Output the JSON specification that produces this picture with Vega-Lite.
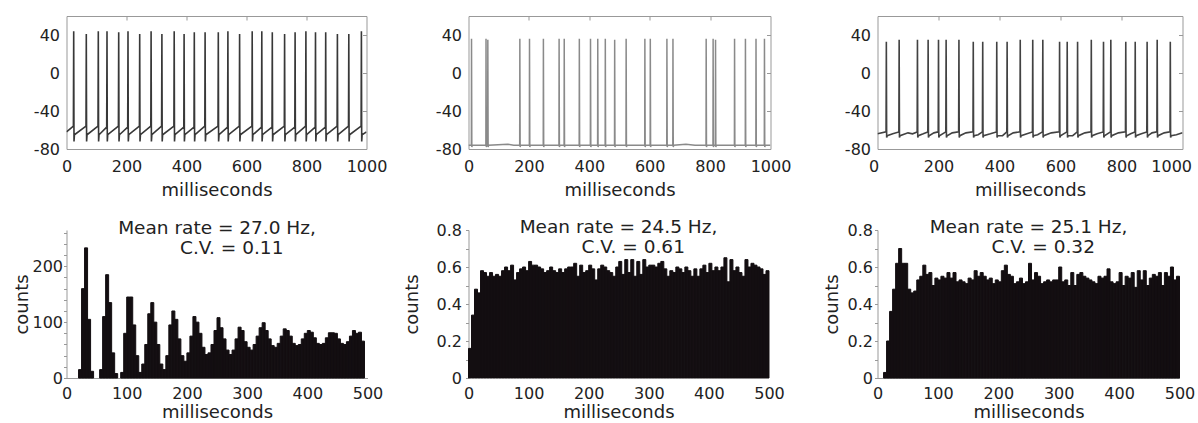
{
  "$schema": "https://vega.github.io/schema/vega-lite/v6.json",
  "padding": {"left": 13.5, "top": 15, "right": 2, "bottom": 2},
  "background": "white",
  "config": {
    "font": "DejaVu Sans",
    "axis": {"labelFont": "DejaVu Sans", "labelFontSize": 16, "labelColor": "#222", "titleFont": "DejaVu Sans", "titleFontSize": 18, "titleFontWeight": "normal", "titleColor": "#222", "grid": false, "labelFlush": false, "labelOverlap": false, "domainColor": "#999", "tickColor": "#999"},
    "view": {"stroke": null},
    "title": {"font": "DejaVu Sans", "fontSize": 18.5, "fontWeight": "normal", "color": "#222"}
  },
  "datasets": {
    "tr1": [
      {"t": 0, "v": -62},
      {"t": 23, "v": -56}, {"t": 24, "v": 44}, {"t": 25, "v": -72}, {"t": 26.5, "v": -65},
      {"t": 65, "v": -56}, {"t": 66, "v": 41}, {"t": 67, "v": -72}, {"t": 68.5, "v": -65},
      {"t": 105, "v": -56}, {"t": 106, "v": 44}, {"t": 107, "v": -72}, {"t": 108.5, "v": -65},
      {"t": 134, "v": -57}, {"t": 135, "v": 44}, {"t": 136, "v": -72}, {"t": 137.5, "v": -65},
      {"t": 173, "v": -56}, {"t": 174, "v": 43}, {"t": 175, "v": -72}, {"t": 176.5, "v": -65},
      {"t": 204, "v": -57}, {"t": 205, "v": 44}, {"t": 206, "v": -72}, {"t": 207.5, "v": -65},
      {"t": 243, "v": -56}, {"t": 244, "v": 41}, {"t": 245, "v": -72}, {"t": 246.5, "v": -65},
      {"t": 281, "v": -56}, {"t": 282, "v": 44}, {"t": 283, "v": -72}, {"t": 284.5, "v": -65},
      {"t": 317, "v": -56}, {"t": 318, "v": 41}, {"t": 319, "v": -72}, {"t": 320.5, "v": -65},
      {"t": 358, "v": -56}, {"t": 359, "v": 44}, {"t": 360, "v": -72}, {"t": 361.5, "v": -65},
      {"t": 391, "v": -57}, {"t": 392, "v": 41}, {"t": 393, "v": -72}, {"t": 394.5, "v": -65},
      {"t": 425, "v": -57}, {"t": 426, "v": 43}, {"t": 427, "v": -72}, {"t": 428.5, "v": -65},
      {"t": 461, "v": -56}, {"t": 462, "v": 43}, {"t": 463, "v": -72}, {"t": 464.5, "v": -65},
      {"t": 505, "v": -56}, {"t": 506, "v": 43}, {"t": 507, "v": -72}, {"t": 508.5, "v": -65},
      {"t": 537, "v": -57}, {"t": 538, "v": 44}, {"t": 539, "v": -72}, {"t": 540.5, "v": -65},
      {"t": 576, "v": -56}, {"t": 577, "v": 41}, {"t": 578, "v": -72}, {"t": 579.5, "v": -65},
      {"t": 618, "v": -56}, {"t": 619, "v": 44}, {"t": 620, "v": -72}, {"t": 621.5, "v": -65},
      {"t": 650, "v": -57}, {"t": 651, "v": 44}, {"t": 652, "v": -72}, {"t": 653.5, "v": -65},
      {"t": 685, "v": -57}, {"t": 686, "v": 43}, {"t": 687, "v": -72}, {"t": 688.5, "v": -65},
      {"t": 726, "v": -56}, {"t": 727, "v": 41}, {"t": 728, "v": -72}, {"t": 729.5, "v": -65},
      {"t": 761, "v": -57}, {"t": 762, "v": 43}, {"t": 763, "v": -72}, {"t": 764.5, "v": -65},
      {"t": 797, "v": -56}, {"t": 798, "v": 44}, {"t": 799, "v": -72}, {"t": 800.5, "v": -65},
      {"t": 829, "v": -57}, {"t": 830, "v": 43}, {"t": 831, "v": -72}, {"t": 832.5, "v": -65},
      {"t": 863, "v": -57}, {"t": 864, "v": 43}, {"t": 865, "v": -72}, {"t": 866.5, "v": -65},
      {"t": 902, "v": -56}, {"t": 903, "v": 41}, {"t": 904, "v": -72}, {"t": 905.5, "v": -65},
      {"t": 940, "v": -56}, {"t": 941, "v": 41}, {"t": 942, "v": -72}, {"t": 943.5, "v": -65},
      {"t": 982, "v": -56}, {"t": 983, "v": 44}, {"t": 984, "v": -72}, {"t": 985.5, "v": -65},
      {"t": 1000, "v": -62}
    ],
    "tr2": [
      {"t": 0, "v": -76},
      {"t": 9.5, "v": -76}, {"t": 10, "v": 36}, {"t": 11, "v": -78}, {"t": 12.5, "v": -76},
      {"t": 57.5, "v": -76}, {"t": 58, "v": 36}, {"t": 59, "v": -78}, {"t": 60.5, "v": -76},
      {"t": 63.5, "v": -76}, {"t": 64, "v": 35}, {"t": 65, "v": -78}, {"t": 66.5, "v": -76},
      {"t": 130, "v": -75}, {"t": 150, "v": -76},
      {"t": 169.5, "v": -76}, {"t": 170, "v": 36}, {"t": 171, "v": -78}, {"t": 172.5, "v": -76},
      {"t": 201.5, "v": -76}, {"t": 202, "v": 36}, {"t": 203, "v": -78}, {"t": 204.5, "v": -76},
      {"t": 247.5, "v": -76}, {"t": 248, "v": 36}, {"t": 249, "v": -78}, {"t": 250.5, "v": -76},
      {"t": 299.5, "v": -76}, {"t": 300, "v": 36}, {"t": 301, "v": -78}, {"t": 302.5, "v": -76},
      {"t": 316.5, "v": -76}, {"t": 317, "v": 36}, {"t": 318, "v": -78}, {"t": 319.5, "v": -76},
      {"t": 366.5, "v": -76}, {"t": 367, "v": 36}, {"t": 368, "v": -78}, {"t": 369.5, "v": -76},
      {"t": 403.5, "v": -76}, {"t": 404, "v": 36}, {"t": 405, "v": -78}, {"t": 406.5, "v": -76},
      {"t": 427.5, "v": -76}, {"t": 428, "v": 36}, {"t": 429, "v": -78}, {"t": 430.5, "v": -76},
      {"t": 452.5, "v": -76}, {"t": 453, "v": 36}, {"t": 454, "v": -78}, {"t": 455.5, "v": -76},
      {"t": 483.5, "v": -76}, {"t": 484, "v": 35}, {"t": 485, "v": -78}, {"t": 486.5, "v": -76},
      {"t": 521.5, "v": -76}, {"t": 522, "v": 36}, {"t": 523, "v": -78}, {"t": 524.5, "v": -76},
      {"t": 583.5, "v": -76}, {"t": 584, "v": 36}, {"t": 585, "v": -78}, {"t": 586.5, "v": -76},
      {"t": 601.5, "v": -76}, {"t": 602, "v": 36}, {"t": 603, "v": -78}, {"t": 604.5, "v": -76},
      {"t": 656.5, "v": -76}, {"t": 657, "v": 36}, {"t": 658, "v": -78}, {"t": 659.5, "v": -76},
      {"t": 676.5, "v": -76}, {"t": 677, "v": 36}, {"t": 678, "v": -78}, {"t": 679.5, "v": -76},
      {"t": 720, "v": -75}, {"t": 750, "v": -76},
      {"t": 786.5, "v": -76}, {"t": 787, "v": 36}, {"t": 788, "v": -78}, {"t": 789.5, "v": -76},
      {"t": 809.5, "v": -76}, {"t": 810, "v": 36}, {"t": 811, "v": -78}, {"t": 812.5, "v": -76},
      {"t": 817.5, "v": -76}, {"t": 818, "v": 35}, {"t": 819, "v": -78}, {"t": 820.5, "v": -76},
      {"t": 880.5, "v": -76}, {"t": 881, "v": 36}, {"t": 882, "v": -78}, {"t": 883.5, "v": -76},
      {"t": 916.5, "v": -76}, {"t": 917, "v": 36}, {"t": 918, "v": -78}, {"t": 919.5, "v": -76},
      {"t": 951.5, "v": -76}, {"t": 952, "v": 36}, {"t": 953, "v": -78}, {"t": 954.5, "v": -76},
      {"t": 979.5, "v": -76}, {"t": 980, "v": 36}, {"t": 981, "v": -78}, {"t": 982.5, "v": -76},
      {"t": 1000, "v": -76}
    ],
    "tr3": [
      {"t": 0, "v": -64},
      {"t": 28, "v": -62}, {"t": 29, "v": 33}, {"t": 30, "v": -68}, {"t": 32, "v": -66},
      {"t": 50, "v": -64},
      {"t": 70, "v": -62}, {"t": 71, "v": 35}, {"t": 72, "v": -68}, {"t": 74, "v": -66},
      {"t": 100, "v": -63}, {"t": 115, "v": -64},
      {"t": 130, "v": -62}, {"t": 131, "v": 35}, {"t": 132, "v": -68}, {"t": 134, "v": -66},
      {"t": 150, "v": -64},
      {"t": 165, "v": -62}, {"t": 166, "v": 35}, {"t": 167, "v": -68}, {"t": 169, "v": -66},
      {"t": 185, "v": -63},
      {"t": 199, "v": -62}, {"t": 200, "v": 35}, {"t": 201, "v": -68}, {"t": 203, "v": -66},
      {"t": 224, "v": -62}, {"t": 225, "v": 35}, {"t": 226, "v": -68}, {"t": 228, "v": -66},
      {"t": 245, "v": -63},
      {"t": 266, "v": -62}, {"t": 267, "v": 35}, {"t": 268, "v": -68}, {"t": 270, "v": -66},
      {"t": 290, "v": -63},
      {"t": 313, "v": -62}, {"t": 314, "v": 33}, {"t": 315, "v": -68}, {"t": 317, "v": -66},
      {"t": 330, "v": -65},
      {"t": 344, "v": -62}, {"t": 345, "v": 33}, {"t": 346, "v": -68}, {"t": 348, "v": -66},
      {"t": 370, "v": -64},
      {"t": 390, "v": -62}, {"t": 391, "v": 33}, {"t": 392, "v": -68}, {"t": 394, "v": -66},
      {"t": 410, "v": -66},
      {"t": 424, "v": -62}, {"t": 425, "v": 33}, {"t": 426, "v": -68}, {"t": 428, "v": -66},
      {"t": 445, "v": -63},
      {"t": 467, "v": -62}, {"t": 468, "v": 35}, {"t": 469, "v": -68}, {"t": 471, "v": -66},
      {"t": 490, "v": -64},
      {"t": 508, "v": -62}, {"t": 509, "v": 35}, {"t": 510, "v": -68}, {"t": 512, "v": -66},
      {"t": 525, "v": -65},
      {"t": 541, "v": -62}, {"t": 542, "v": 35}, {"t": 543, "v": -68}, {"t": 545, "v": -66},
      {"t": 570, "v": -63},
      {"t": 596, "v": -62}, {"t": 597, "v": 33}, {"t": 598, "v": -68}, {"t": 600, "v": -66},
      {"t": 621, "v": -62}, {"t": 622, "v": 33}, {"t": 623, "v": -68}, {"t": 625, "v": -66},
      {"t": 640, "v": -66},
      {"t": 655, "v": -62}, {"t": 656, "v": 33}, {"t": 657, "v": -68}, {"t": 659, "v": -66},
      {"t": 680, "v": -63},
      {"t": 700, "v": -62}, {"t": 701, "v": 35}, {"t": 702, "v": -68}, {"t": 704, "v": -66},
      {"t": 720, "v": -64},
      {"t": 740, "v": -62}, {"t": 741, "v": 33}, {"t": 742, "v": -68}, {"t": 744, "v": -66},
      {"t": 764, "v": -62}, {"t": 765, "v": 35}, {"t": 766, "v": -68}, {"t": 768, "v": -66},
      {"t": 790, "v": -63},
      {"t": 813, "v": -62}, {"t": 814, "v": 33}, {"t": 815, "v": -68}, {"t": 817, "v": -66},
      {"t": 830, "v": -64},
      {"t": 844, "v": -62}, {"t": 845, "v": 33}, {"t": 846, "v": -68}, {"t": 848, "v": -66},
      {"t": 865, "v": -64},
      {"t": 883, "v": -62}, {"t": 884, "v": 33}, {"t": 885, "v": -68}, {"t": 887, "v": -66},
      {"t": 900, "v": -63},
      {"t": 916, "v": -62}, {"t": 917, "v": 35}, {"t": 918, "v": -68}, {"t": 920, "v": -66},
      {"t": 940, "v": -63},
      {"t": 959, "v": -62}, {"t": 960, "v": 33}, {"t": 961, "v": -68}, {"t": 963, "v": -66},
      {"t": 980, "v": -65},
      {"t": 1000, "v": -63}
    ],
    "h1": [
      {"a": 20, "b": 25, "c": 15}, {"a": 25, "b": 30, "c": 160}, {"a": 30, "b": 35, "c": 233}, {"a": 35, "b": 40, "c": 105}, {"a": 40, "b": 45, "c": 12},
      {"a": 55, "b": 60, "c": 15}, {"a": 60, "b": 65, "c": 110}, {"a": 65, "b": 70, "c": 185}, {"a": 70, "b": 75, "c": 135}, {"a": 75, "b": 80, "c": 45}, {"a": 80, "b": 85, "c": 8},
      {"a": 90, "b": 95, "c": 10}, {"a": 95, "b": 100, "c": 80}, {"a": 100, "b": 105, "c": 145}, {"a": 105, "b": 110, "c": 145}, {"a": 110, "b": 115, "c": 95}, {"a": 115, "b": 120, "c": 40}, {"a": 120, "b": 125, "c": 10},
      {"a": 125, "b": 130, "c": 25}, {"a": 130, "b": 135, "c": 60}, {"a": 135, "b": 140, "c": 115}, {"a": 140, "b": 145, "c": 135}, {"a": 145, "b": 150, "c": 100}, {"a": 150, "b": 155, "c": 60}, {"a": 155, "b": 160, "c": 25},
      {"a": 160, "b": 165, "c": 15}, {"a": 165, "b": 170, "c": 40}, {"a": 170, "b": 175, "c": 95}, {"a": 175, "b": 180, "c": 120}, {"a": 180, "b": 185, "c": 105}, {"a": 185, "b": 190, "c": 70}, {"a": 190, "b": 195, "c": 40}, {"a": 195, "b": 200, "c": 30},
      {"a": 200, "b": 205, "c": 45}, {"a": 205, "b": 210, "c": 75}, {"a": 210, "b": 215, "c": 110}, {"a": 215, "b": 220, "c": 100}, {"a": 220, "b": 225, "c": 80}, {"a": 225, "b": 230, "c": 55}, {"a": 230, "b": 235, "c": 42},
      {"a": 235, "b": 240, "c": 45}, {"a": 240, "b": 245, "c": 60}, {"a": 245, "b": 250, "c": 85}, {"a": 250, "b": 255, "c": 108}, {"a": 255, "b": 260, "c": 90}, {"a": 260, "b": 265, "c": 70}, {"a": 265, "b": 270, "c": 50}, {"a": 270, "b": 275, "c": 42},
      {"a": 275, "b": 280, "c": 50}, {"a": 280, "b": 285, "c": 70}, {"a": 285, "b": 290, "c": 91}, {"a": 290, "b": 295, "c": 85}, {"a": 295, "b": 300, "c": 65}, {"a": 300, "b": 305, "c": 55}, {"a": 305, "b": 310, "c": 50},
      {"a": 310, "b": 315, "c": 60}, {"a": 315, "b": 320, "c": 75}, {"a": 320, "b": 325, "c": 90}, {"a": 325, "b": 330, "c": 99}, {"a": 330, "b": 335, "c": 85}, {"a": 335, "b": 340, "c": 70}, {"a": 340, "b": 345, "c": 58}, {"a": 345, "b": 350, "c": 55},
      {"a": 350, "b": 355, "c": 62}, {"a": 355, "b": 360, "c": 75}, {"a": 360, "b": 365, "c": 88}, {"a": 365, "b": 370, "c": 85}, {"a": 370, "b": 375, "c": 75}, {"a": 375, "b": 380, "c": 62}, {"a": 380, "b": 385, "c": 58},
      {"a": 385, "b": 390, "c": 60}, {"a": 390, "b": 395, "c": 70}, {"a": 395, "b": 400, "c": 80}, {"a": 400, "b": 405, "c": 85}, {"a": 405, "b": 410, "c": 82}, {"a": 410, "b": 415, "c": 72}, {"a": 415, "b": 420, "c": 62}, {"a": 420, "b": 425, "c": 60},
      {"a": 425, "b": 430, "c": 62}, {"a": 430, "b": 435, "c": 72}, {"a": 435, "b": 440, "c": 81}, {"a": 440, "b": 445, "c": 81}, {"a": 445, "b": 450, "c": 80}, {"a": 450, "b": 455, "c": 70}, {"a": 455, "b": 460, "c": 62}, {"a": 460, "b": 465, "c": 60},
      {"a": 465, "b": 470, "c": 65}, {"a": 470, "b": 475, "c": 75}, {"a": 475, "b": 480, "c": 85}, {"a": 480, "b": 485, "c": 80}, {"a": 485, "b": 490, "c": 82}, {"a": 490, "b": 495, "c": 66}
    ],
    "h2": [
      {"a": 0, "b": 5, "c": 0.16}, {"a": 5, "b": 10, "c": 0.34}, {"a": 10, "b": 15, "c": 0.48}, {"a": 15, "b": 20, "c": 0.46}, {"a": 20, "b": 25, "c": 0.58},
      {"a": 25, "b": 30, "c": 0.57}, {"a": 30, "b": 35, "c": 0.55}, {"a": 35, "b": 40, "c": 0.57}, {"a": 40, "b": 45, "c": 0.55}, {"a": 45, "b": 50, "c": 0.56},
      {"a": 50, "b": 55, "c": 0.55}, {"a": 55, "b": 60, "c": 0.58}, {"a": 60, "b": 65, "c": 0.6}, {"a": 65, "b": 70, "c": 0.58}, {"a": 70, "b": 75, "c": 0.61},
      {"a": 75, "b": 80, "c": 0.53}, {"a": 80, "b": 85, "c": 0.57}, {"a": 85, "b": 90, "c": 0.59}, {"a": 90, "b": 95, "c": 0.6}, {"a": 95, "b": 100, "c": 0.58},
      {"a": 100, "b": 105, "c": 0.63}, {"a": 105, "b": 110, "c": 0.61}, {"a": 110, "b": 115, "c": 0.61}, {"a": 115, "b": 120, "c": 0.6}, {"a": 120, "b": 125, "c": 0.59},
      {"a": 125, "b": 130, "c": 0.57}, {"a": 130, "b": 135, "c": 0.58}, {"a": 135, "b": 140, "c": 0.6}, {"a": 140, "b": 145, "c": 0.58}, {"a": 145, "b": 150, "c": 0.57},
      {"a": 150, "b": 155, "c": 0.59}, {"a": 155, "b": 160, "c": 0.57}, {"a": 160, "b": 165, "c": 0.59}, {"a": 165, "b": 170, "c": 0.6}, {"a": 170, "b": 175, "c": 0.6},
      {"a": 175, "b": 180, "c": 0.62}, {"a": 180, "b": 185, "c": 0.55}, {"a": 185, "b": 190, "c": 0.61}, {"a": 190, "b": 195, "c": 0.57}, {"a": 195, "b": 200, "c": 0.58},
      {"a": 200, "b": 205, "c": 0.61}, {"a": 205, "b": 210, "c": 0.59}, {"a": 210, "b": 215, "c": 0.53}, {"a": 215, "b": 220, "c": 0.59}, {"a": 220, "b": 225, "c": 0.61},
      {"a": 225, "b": 230, "c": 0.6}, {"a": 230, "b": 235, "c": 0.58}, {"a": 235, "b": 240, "c": 0.57}, {"a": 240, "b": 245, "c": 0.55}, {"a": 245, "b": 250, "c": 0.6},
      {"a": 250, "b": 255, "c": 0.63}, {"a": 255, "b": 260, "c": 0.56}, {"a": 260, "b": 265, "c": 0.64}, {"a": 265, "b": 270, "c": 0.57}, {"a": 270, "b": 275, "c": 0.64},
      {"a": 275, "b": 280, "c": 0.55}, {"a": 280, "b": 285, "c": 0.63}, {"a": 285, "b": 290, "c": 0.56}, {"a": 290, "b": 295, "c": 0.64}, {"a": 295, "b": 300, "c": 0.6},
      {"a": 300, "b": 305, "c": 0.61}, {"a": 305, "b": 310, "c": 0.61}, {"a": 310, "b": 315, "c": 0.6}, {"a": 315, "b": 320, "c": 0.62}, {"a": 320, "b": 325, "c": 0.63},
      {"a": 325, "b": 330, "c": 0.59}, {"a": 330, "b": 335, "c": 0.55}, {"a": 335, "b": 340, "c": 0.58}, {"a": 340, "b": 345, "c": 0.57}, {"a": 345, "b": 350, "c": 0.6},
      {"a": 350, "b": 355, "c": 0.59}, {"a": 355, "b": 360, "c": 0.57}, {"a": 360, "b": 365, "c": 0.6}, {"a": 365, "b": 370, "c": 0.58}, {"a": 370, "b": 375, "c": 0.55},
      {"a": 375, "b": 380, "c": 0.59}, {"a": 380, "b": 385, "c": 0.55}, {"a": 385, "b": 390, "c": 0.59}, {"a": 390, "b": 395, "c": 0.61}, {"a": 395, "b": 400, "c": 0.57},
      {"a": 400, "b": 405, "c": 0.62}, {"a": 405, "b": 410, "c": 0.58}, {"a": 410, "b": 415, "c": 0.6}, {"a": 415, "b": 420, "c": 0.58}, {"a": 420, "b": 425, "c": 0.6},
      {"a": 425, "b": 430, "c": 0.65}, {"a": 430, "b": 435, "c": 0.52}, {"a": 435, "b": 440, "c": 0.64}, {"a": 440, "b": 445, "c": 0.58}, {"a": 445, "b": 450, "c": 0.6},
      {"a": 450, "b": 455, "c": 0.57}, {"a": 455, "b": 460, "c": 0.55}, {"a": 460, "b": 465, "c": 0.64}, {"a": 465, "b": 470, "c": 0.6}, {"a": 470, "b": 475, "c": 0.62},
      {"a": 475, "b": 480, "c": 0.61}, {"a": 480, "b": 485, "c": 0.6}, {"a": 485, "b": 490, "c": 0.59}, {"a": 490, "b": 495, "c": 0.56}, {"a": 495, "b": 500, "c": 0.58}
    ],
    "h3": [
      {"a": 10, "b": 15, "c": 0.03}, {"a": 15, "b": 20, "c": 0.2}, {"a": 20, "b": 25, "c": 0.36}, {"a": 25, "b": 30, "c": 0.48}, {"a": 30, "b": 35, "c": 0.62},
      {"a": 35, "b": 40, "c": 0.7}, {"a": 40, "b": 45, "c": 0.62}, {"a": 45, "b": 50, "c": 0.62}, {"a": 50, "b": 55, "c": 0.48}, {"a": 55, "b": 60, "c": 0.46},
      {"a": 60, "b": 65, "c": 0.47}, {"a": 65, "b": 70, "c": 0.53}, {"a": 70, "b": 75, "c": 0.55}, {"a": 75, "b": 80, "c": 0.61}, {"a": 80, "b": 85, "c": 0.56},
      {"a": 85, "b": 90, "c": 0.57}, {"a": 90, "b": 95, "c": 0.5}, {"a": 95, "b": 100, "c": 0.54}, {"a": 100, "b": 105, "c": 0.53}, {"a": 105, "b": 110, "c": 0.55},
      {"a": 110, "b": 115, "c": 0.54}, {"a": 115, "b": 120, "c": 0.57}, {"a": 120, "b": 125, "c": 0.54}, {"a": 125, "b": 130, "c": 0.57}, {"a": 130, "b": 135, "c": 0.52},
      {"a": 135, "b": 140, "c": 0.53}, {"a": 140, "b": 145, "c": 0.52}, {"a": 145, "b": 150, "c": 0.51}, {"a": 150, "b": 155, "c": 0.54}, {"a": 155, "b": 160, "c": 0.53},
      {"a": 160, "b": 165, "c": 0.58}, {"a": 165, "b": 170, "c": 0.55}, {"a": 170, "b": 175, "c": 0.57}, {"a": 175, "b": 180, "c": 0.55}, {"a": 180, "b": 185, "c": 0.53},
      {"a": 185, "b": 190, "c": 0.54}, {"a": 190, "b": 195, "c": 0.51}, {"a": 195, "b": 200, "c": 0.53}, {"a": 200, "b": 205, "c": 0.52}, {"a": 205, "b": 210, "c": 0.58},
      {"a": 210, "b": 215, "c": 0.61}, {"a": 215, "b": 220, "c": 0.56}, {"a": 220, "b": 225, "c": 0.55}, {"a": 225, "b": 230, "c": 0.51}, {"a": 230, "b": 235, "c": 0.52},
      {"a": 235, "b": 240, "c": 0.54}, {"a": 240, "b": 245, "c": 0.51}, {"a": 245, "b": 250, "c": 0.52}, {"a": 250, "b": 255, "c": 0.62}, {"a": 255, "b": 260, "c": 0.53},
      {"a": 260, "b": 265, "c": 0.57}, {"a": 265, "b": 270, "c": 0.55}, {"a": 270, "b": 275, "c": 0.51}, {"a": 275, "b": 280, "c": 0.52}, {"a": 280, "b": 285, "c": 0.53},
      {"a": 285, "b": 290, "c": 0.52}, {"a": 290, "b": 295, "c": 0.53}, {"a": 295, "b": 300, "c": 0.53}, {"a": 300, "b": 305, "c": 0.6}, {"a": 305, "b": 310, "c": 0.52},
      {"a": 310, "b": 315, "c": 0.53}, {"a": 315, "b": 320, "c": 0.5}, {"a": 320, "b": 325, "c": 0.57}, {"a": 325, "b": 330, "c": 0.5}, {"a": 330, "b": 335, "c": 0.56},
      {"a": 335, "b": 340, "c": 0.57}, {"a": 340, "b": 345, "c": 0.55}, {"a": 345, "b": 350, "c": 0.54}, {"a": 350, "b": 355, "c": 0.53}, {"a": 355, "b": 360, "c": 0.52},
      {"a": 360, "b": 365, "c": 0.51}, {"a": 365, "b": 370, "c": 0.55}, {"a": 370, "b": 375, "c": 0.54}, {"a": 375, "b": 380, "c": 0.55}, {"a": 380, "b": 385, "c": 0.59},
      {"a": 385, "b": 390, "c": 0.52}, {"a": 390, "b": 395, "c": 0.51}, {"a": 395, "b": 400, "c": 0.52}, {"a": 400, "b": 405, "c": 0.57}, {"a": 405, "b": 410, "c": 0.5},
      {"a": 410, "b": 415, "c": 0.55}, {"a": 415, "b": 420, "c": 0.54}, {"a": 420, "b": 425, "c": 0.57}, {"a": 425, "b": 430, "c": 0.49}, {"a": 430, "b": 435, "c": 0.58},
      {"a": 435, "b": 440, "c": 0.53}, {"a": 440, "b": 445, "c": 0.58}, {"a": 445, "b": 450, "c": 0.5}, {"a": 450, "b": 455, "c": 0.54}, {"a": 455, "b": 460, "c": 0.56},
      {"a": 460, "b": 465, "c": 0.55}, {"a": 465, "b": 470, "c": 0.57}, {"a": 470, "b": 475, "c": 0.5}, {"a": 475, "b": 480, "c": 0.57}, {"a": 480, "b": 485, "c": 0.55},
      {"a": 485, "b": 490, "c": 0.6}, {"a": 490, "b": 495, "c": 0.53}, {"a": 495, "b": 500, "c": 0.55}
    ]
  },
  "bounds": "flush",
  "align": "none",
  "columns": 3,
  "spacing": {"row": 81, "column": 101},
  "concat": [
    {
      "width": 300, "height": 133,
      "view": {"stroke": "#999"},
      "data": {"name": "tr1"},
      "layer": [
        {"mark": {"type": "line", "color": "#383838", "strokeWidth": 1.6, "clip": true},
         "encoding": {
           "x": {"field": "t", "type": "quantitative", "scale": {"domain": [0, 1000], "nice": false}, "axis": {"values": [0, 200, 400, 600, 800, 1000], "format": "d", "ticks": false, "domain": false, "labelPadding": 9, "title": "milliseconds", "titlePadding": 7}},
           "y": {"field": "v", "type": "quantitative", "scale": {"domain": [-80, 60], "nice": false}, "axis": {"values": [-80, -40, 0, 40], "ticks": false, "domain": false, "labelPadding": 7, "title": null, "labelExpr": "datum.value < 0 ? '-' + abs(datum.value) : '' + datum.value"}}
         }},
        {"mark": {"type": "line", "opacity": 0},
         "encoding": {
           "x": {"field": "t", "type": "quantitative", "axis": {"orient": "top", "values": [200, 400, 600, 800], "labels": false, "domain": false, "tickSize": -4, "title": null}},
           "y": {"field": "v", "type": "quantitative", "axis": {"orient": "right", "values": [-40, 0, 40], "labels": false, "domain": false, "tickSize": -4, "title": null}}
         }}
      ],
      "resolve": {"axis": {"x": "independent", "y": "independent"}}
    },
    {
      "width": 302, "height": 133,
      "view": {"stroke": "#999"},
      "data": {"name": "tr2"},
      "layer": [
        {"mark": {"type": "line", "color": "#8a8a8a", "strokeWidth": 1.5, "clip": true},
         "encoding": {
           "x": {"field": "t", "type": "quantitative", "scale": {"domain": [0, 1000], "nice": false}, "axis": {"values": [0, 200, 400, 600, 800, 1000], "format": "d", "ticks": false, "domain": false, "labelPadding": 9, "title": "milliseconds", "titlePadding": 7}},
           "y": {"field": "v", "type": "quantitative", "scale": {"domain": [-80, 60], "nice": false}, "axis": {"values": [-80, -40, 0, 40], "ticks": false, "domain": false, "labelPadding": 7, "title": null, "labelExpr": "datum.value < 0 ? '-' + abs(datum.value) : '' + datum.value"}}
         }},
        {"mark": {"type": "line", "opacity": 0},
         "encoding": {
           "x": {"field": "t", "type": "quantitative", "axis": {"orient": "top", "values": [200, 400, 600, 800], "labels": false, "domain": false, "tickSize": -4, "title": null}},
           "y": {"field": "v", "type": "quantitative", "axis": {"orient": "right", "values": [-40, 0, 40], "labels": false, "domain": false, "tickSize": -4, "title": null}}
         }}
      ],
      "resolve": {"axis": {"x": "independent", "y": "independent"}}
    },
    {
      "width": 305, "height": 133,
      "view": {"stroke": "#999"},
      "data": {"name": "tr3"},
      "layer": [
        {"mark": {"type": "line", "color": "#424242", "strokeWidth": 1.6, "clip": true},
         "encoding": {
           "x": {"field": "t", "type": "quantitative", "scale": {"domain": [0, 1000], "nice": false}, "axis": {"values": [0, 200, 400, 600, 800, 1000], "format": "d", "ticks": false, "domain": false, "labelPadding": 9, "labelFlush": true, "labelFlushOffset": 9, "title": "milliseconds", "titlePadding": 7}},
           "y": {"field": "v", "type": "quantitative", "scale": {"domain": [-80, 60], "nice": false}, "axis": {"values": [-80, -40, 0, 40], "ticks": false, "domain": false, "labelPadding": 7, "title": null, "labelExpr": "datum.value < 0 ? '-' + abs(datum.value) : '' + datum.value"}}
         }},
        {"mark": {"type": "line", "opacity": 0},
         "encoding": {
           "x": {"field": "t", "type": "quantitative", "axis": {"orient": "top", "values": [200, 400, 600, 800], "labels": false, "domain": false, "tickSize": -4, "title": null}},
           "y": {"field": "v", "type": "quantitative", "axis": {"orient": "right", "values": [-40, 0, 40], "labels": false, "domain": false, "tickSize": -4, "title": null}}
         }}
      ],
      "resolve": {"axis": {"x": "independent", "y": "independent"}}
    },
    {
      "width": 301, "height": 148,
      "title": {"text": ["Mean rate = 27.0 Hz,", "\u200b\u00a0\u00a0\u00a0\u00a0\u00a0C.V. = 0.11"], "anchor": "middle", "frame": "group", "baseline": "bottom", "lineHeight": 20, "offset": -52},
      "data": {"name": "h1"},
      "mark": {"type": "rect", "color": "#130e11", "stroke": "#130e11", "strokeWidth": 1},
      "encoding": {
        "x": {"field": "a", "type": "quantitative", "scale": {"domain": [0, 500], "nice": false}, "axis": {"values": [0, 100, 200, 300, 400, 500], "ticks": false, "labelPadding": 7, "title": "milliseconds", "titlePadding": 2}},
        "x2": {"field": "b"},
        "y": {"field": "c", "type": "quantitative", "scale": {"domain": [0, 265], "nice": false}, "axis": {"values": [0, 20, 40, 60, 80, 100, 120, 140, 160, 180, 200, 220, 240, 260], "tickSize": 3, "labelPadding": 1, "title": "counts", "titlePadding": 0, "labelExpr": "datum.value % 100 == 0 ? '' + datum.value : ''"}},
        "y2": {"datum": 0}
      }
    },
    {
      "width": 308, "height": 148,
      "title": {"text": ["Mean rate = 24.5 Hz,", "\u200b\u00a0\u00a0\u00a0\u00a0\u00a0C.V. = 0.61"], "anchor": "middle", "frame": "group", "baseline": "bottom", "lineHeight": 20, "offset": -53, "dx": -4},
      "data": {"name": "h2"},
      "mark": {"type": "rect", "color": "#130e11", "stroke": "#130e11", "strokeWidth": 1},
      "encoding": {
        "x": {"field": "a", "type": "quantitative", "scale": {"domain": [0, 512.5], "nice": false}, "axis": {"values": [0, 100, 200, 300, 400, 500], "ticks": false, "domain": false, "labelPadding": 7, "title": "milliseconds", "titlePadding": 2, "titleX": 150}},
        "x2": {"field": "b"},
        "y": {"field": "c", "type": "quantitative", "scale": {"domain": [0, 0.8], "nice": false}, "axis": {"values": [0, 0.1, 0.2, 0.3, 0.4, 0.5, 0.6, 0.7, 0.8], "tickSize": 3, "labelPadding": 4, "title": "counts", "titlePadding": 15, "labelExpr": "round(datum.value * 10) % 2 == 0 ? format(datum.value, '~g') : ''"}},
        "y2": {"datum": 0}
      }
    },
    {
      "width": 302, "height": 148,
      "title": {"text": ["Mean rate = 25.1 Hz,", "\u200b\u00a0\u00a0\u00a0\u00a0\u00a0C.V. = 0.32"], "anchor": "middle", "frame": "group", "baseline": "bottom", "lineHeight": 20, "offset": -53},
      "data": {"name": "h3"},
      "mark": {"type": "rect", "color": "#130e11", "stroke": "#130e11", "strokeWidth": 1},
      "encoding": {
        "x": {"field": "a", "type": "quantitative", "scale": {"domain": [0, 500], "nice": false}, "axis": {"values": [0, 100, 200, 300, 400, 500], "ticks": false, "labelPadding": 7, "title": "milliseconds", "titlePadding": 2}},
        "x2": {"field": "b"},
        "y": {"field": "c", "type": "quantitative", "scale": {"domain": [0, 0.8], "nice": false}, "axis": {"values": [0, 0.1, 0.2, 0.3, 0.4, 0.5, 0.6, 0.7, 0.8], "tickSize": 3, "labelPadding": 2, "title": "counts", "titlePadding": 6, "labelExpr": "round(datum.value * 10) % 2 == 0 ? format(datum.value, '~g') : ''"}},
        "y2": {"datum": 0}
      }
    }
  ]
}
